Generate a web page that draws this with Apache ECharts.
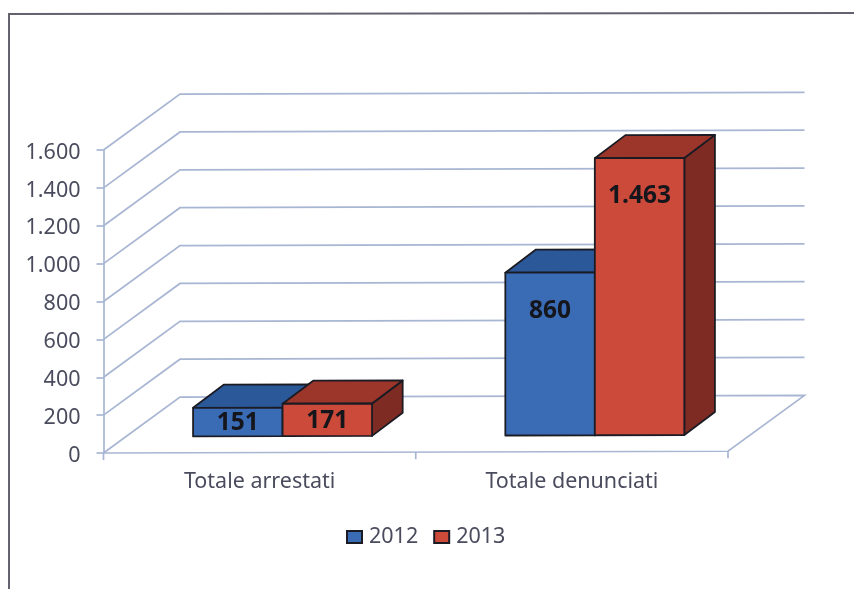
<!DOCTYPE html>
<html>
<head>
<meta charset="utf-8">
<style>html,body{margin:0;padding:0;background:#fff}#c{width:854px;height:589px}</style>
<script src="https://cdn.jsdelivr.net/npm/echarts@6/dist/echarts.min.js"></script>
</head>
<body>
<div id="c"></div>
<script>
var categories = ['Totale arrestati', 'Totale denunciati'];
var years = ['2012', '2013'];
var values2012 = [151, 860];
var values2013 = [171, 1463];
var yTicks = [0, 200, 400, 600, 800, 1000, 1200, 1400, 1600];

var FONT = '"Noto Sans"';
var TEXT = '#4a4c5e', GRIDC = '#a8b6d3', EDGE = '#1b1b24';
var DX = 76.5, DY = -55.7, SKEW = 0.0028;
var BAR_DX = 30.6, BAR_DY = -23, BAR_W = 0.2866;

function dotted(v) { return String(v).replace(/\B(?=(\d{3})+$)/g, '.'); }

function tilt(cs, p) { return [p[0], p[1] - (p[0] - cs.x) * SKEW]; }
function poly(cs, pts, fill, lw) {
  return { type: 'polygon', shape: { points: pts.map(function (p) { return tilt(cs, p); }) },
    style: { fill: fill, stroke: EDGE, lineWidth: lw || 1.8, lineJoin: 'round' } };
}
function line(cs, pts, color, lw) {
  return { type: 'polyline', shape: { points: pts.map(function (p) { return tilt(cs, p); }) },
    style: { fill: null, stroke: color, lineWidth: lw } };
}

function renderWall(params, api) {
  var cs = params.coordSys;
  var y = api.coord([0, api.value(1)])[1];
  var x0 = cs.x, x1 = cs.x + cs.width;
  if (api.value(1) === 0) {
    var children = [
      line(cs, [[x0, y], [x0 + DX, y + DY], [x1 + DX, y + DY], [x1, y], [x0, y]], GRIDC, 1.7)
    ];
    for (var i = 0; i <= categories.length; i++) {
      var tx = x0 + cs.width * i / categories.length;
      children.push(line(cs, [[tx, y], [tx, y + 7]], GRIDC, 1.7));
    }
    return { type: 'group', children: children };
  }
  return line(cs, [[x0, y], [x0 + DX, y + DY], [x1 + DX, y + DY]], GRIDC, 1.7);
}

function barRenderer(seriesIndex, front, top, side) {
  return function (params, api) {
    var cs = params.coordSys;
    var cat = api.value(0), val = api.value(1);
    var c0 = api.coord([cat, 0]), c1 = api.coord([cat, val]);
    var band = api.size([1, 0])[0];
    var w = band * BAR_W;
    var ox = (DX - BAR_DX) / 2, oy = (DY - BAR_DY) / 2;
    var xL = c0[0] + ox + (seriesIndex === 0 ? -w : 0), xR = xL + w;
    var yB = c0[1] + oy, yT = c1[1] + oy;
    var h = yB - yT;
    var labelY = yT + Math.min(h / 2, 37);
    var lab = tilt(cs, [(xL + xR) / 2, labelY + 1]);
    return { type: 'group', children: [
      poly(cs, [[xR, yT], [xR + BAR_DX, yT + BAR_DY], [xR + BAR_DX, yB + BAR_DY], [xR, yB]], side),
      poly(cs, [[xL, yT], [xL + BAR_DX, yT + BAR_DY], [xR + BAR_DX, yT + BAR_DY], [xR, yT]], top),
      poly(cs, [[xL, yT], [xR, yT], [xR, yB], [xL, yB]], front),
      { type: 'text', x: lab[0], y: lab[1], style: { text: dotted(val), align: 'center', verticalAlign: 'middle',
        font: 'bold 24.5px ' + FONT, fill: '#15151c' } }
    ] };
  };
}

function pairs(arr) { return arr.map(function (v, i) { return [i, v]; }); }

var chart = echarts.init(document.getElementById('c'), null, { renderer: 'canvas' });
chart.setOption({
  animation: false,
  backgroundColor: '#ffffff',
  grid: { left: 103.5, right: 126, top: 150, bottom: 136 },
  graphic: [{ type: 'polyline', silent: true, z: 0,
    shape: { points: [[9, 589], [9, 14], [854, 13]] },
    style: { fill: null, stroke: '#63636f', lineWidth: 2 } }],
  legend: { left: 341, top: 521, itemWidth: 15, itemHeight: 12, itemGap: 15, data: years, icon: 'rect',
    textStyle: { fontFamily: FONT, fontSize: 21.5, color: TEXT, padding: [0, 0, 0, 2] } },
  xAxis: { type: 'category', data: categories, boundaryGap: true,
    axisLine: { show: false }, axisTick: { show: false },
    axisLabel: { margin: 18, fontFamily: FONT, fontSize: 21.5, color: TEXT } },
  yAxis: { type: 'value', min: 0, max: 1600, interval: 200,
    splitLine: { show: false },
    axisLine: { show: true, lineStyle: { color: GRIDC, width: 1.7 } },
    axisTick: { show: true, length: 7, lineStyle: { color: GRIDC, width: 1.7 } },
    axisLabel: { margin: 23, fontFamily: FONT, fontSize: 21.5, color: TEXT, verticalAlign: 'top', lineHeight: 5, formatter: dotted } },
  series: [
    { type: 'custom', name: 'wall', silent: true, z: 1, renderItem: renderWall,
      data: pairs(yTicks).map(function (d) { return [0, d[1]]; }), encode: { x: 0, y: 1 } },
    { type: 'custom', name: years[0], z: 2, silent: true,
      itemStyle: { color: '#3a6cb6', borderColor: EDGE, borderWidth: 2 },
      renderItem: barRenderer(0, '#3a6cb6', '#2b5899', '#234a80'),
      data: pairs(values2012), encode: { x: 0, y: 1 } },
    { type: 'custom', name: years[1], z: 3, silent: true,
      itemStyle: { color: '#cb4a3a', borderColor: EDGE, borderWidth: 2 },
      renderItem: barRenderer(1, '#cb4a3a', '#9c352a', '#7e2b23'),
      data: pairs(values2013), encode: { x: 0, y: 1 } }
  ]
});
</script>
</body>
</html>
